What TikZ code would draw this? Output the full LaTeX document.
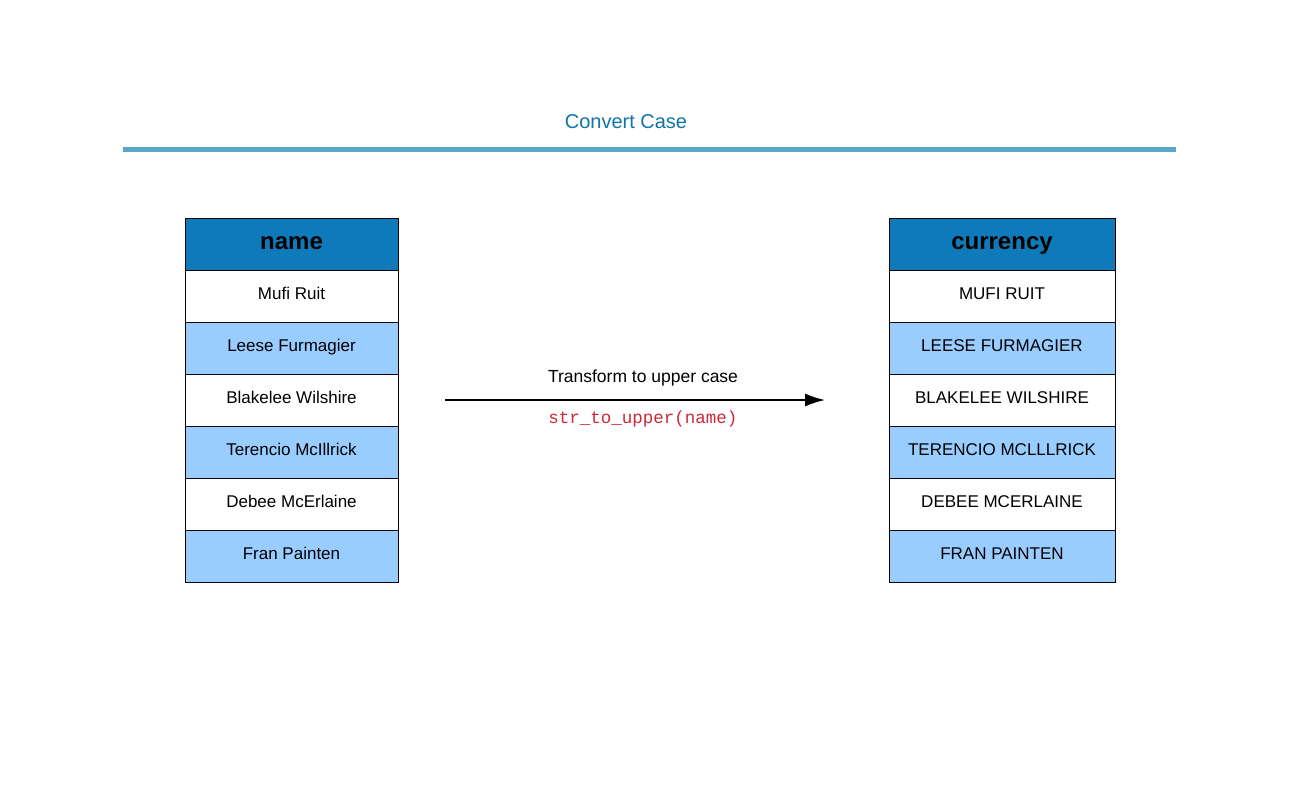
\documentclass[tikz,border=0pt]{standalone}
\usepackage{fontspec}
\setmainfont{Liberation Sans}
\setmonofont{Liberation Mono}
\usepackage{xcolor}
\usepackage{tikz}
\usetikzlibrary{arrows.meta, positioning}
\definecolor{titleblue}{RGB}{16,116,166}
\definecolor{barblue}{RGB}{90,166,200}
\definecolor{headblue}{RGB}{14,122,186}
\definecolor{rowblue}{RGB}{153,204,255}
\definecolor{codered}{RGB}{204,40,56}
\tikzset{
    cellbox/.style={rectangle, draw=black, line width=0.8pt, minimum height=52, inner sep=0pt, text height=12pt, text depth=6pt, font=\fontsize{17}{20}\selectfont},
    headbox/.style={cellbox, fill=headblue, text height=17pt, text depth=7pt, font=\fontsize{24}{28}\selectfont\bfseries}
}

\begin{document}
\begin{tikzpicture}[x=1pt, y=-1pt]
    \useasboundingbox (0,0) rectangle (1300,800);

    % Title and rule
    \node[font=\fontsize{20}{24}\selectfont, text=titleblue] (title) at (626,122) {Convert Case};
    \coordinate (barL) at (123,149);
    \coordinate (barR) at (1176,149);
    \draw[barblue, line width=5pt] (barL) -- (barR);

    % Headers
    \node[headbox, minimum width=213] (hname) at (291.5,244) {name};
    \node[headbox, minimum width=226] (hcur) at (1002,244) {currency};

    % Rows
    \foreach \lname/\uname/\col [count=\i] in {Mufi Ruit/MUFI RUIT/white, Leese Furmagier/LEESE FURMAGIER/rowblue, Blakelee Wilshire/BLAKELEE WILSHIRE/white, Terencio McIllrick/TERENCIO MCLLLRICK/rowblue, Debee McErlaine/DEBEE MCERLAINE/white, Fran Painten/FRAN PAINTEN/rowblue} {
        \node[cellbox, fill=\col, minimum width=213] (l\i) at (291.5, 244+52*\i) {\lname};
        \node[cellbox, fill=\col, minimum width=226] (r\i) at (1002, 244+52*\i) {\uname};
    }
    \draw[line width=1.8pt] (hname.south west) -- (hname.south east);
    \draw[line width=1.8pt] (hcur.south west) -- (hcur.south east);

    % Transformation arrow
    \coordinate (arrS) at (445,400);
    \coordinate (arrE) at (825,400);
    \draw[-{Latex[length=20pt, width=13pt]}, line width=1.6pt] (arrS) -- (arrE);
    \node[font=\fontsize{17.5}{20}\selectfont] (what) at (643,377.5) {Transform to upper case};
    \node[font=\ttfamily\fontsize{17.5}{20}\selectfont, text=codered] (code) at (643,419) {str\_to\_upper(name)};
\end{tikzpicture}
\end{document}
